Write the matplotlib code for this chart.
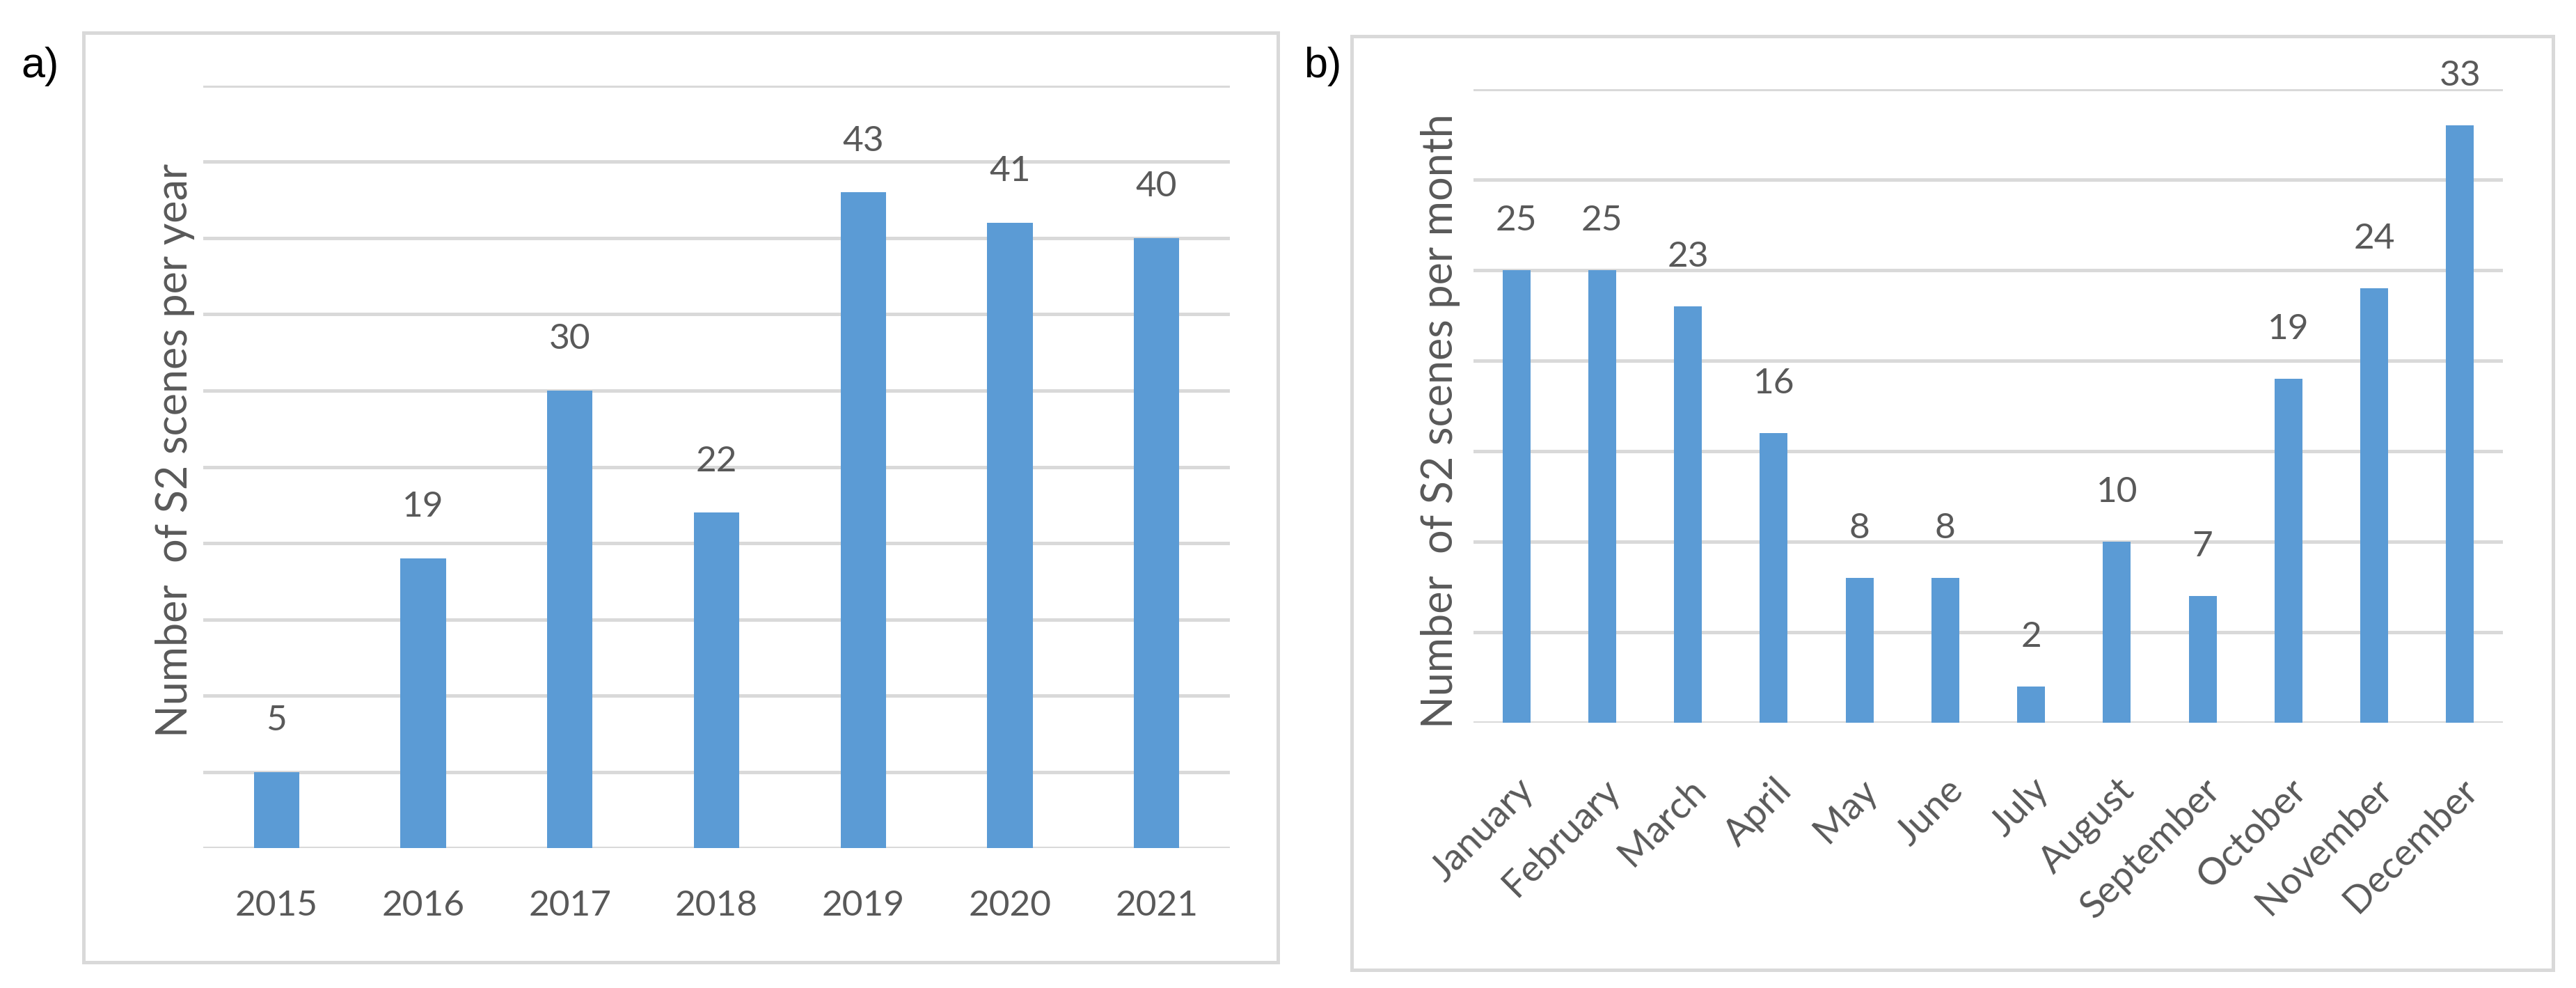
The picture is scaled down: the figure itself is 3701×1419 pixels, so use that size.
import numpy as np
import matplotlib
matplotlib.use('Agg')
import matplotlib.pyplot as plt
from matplotlib import font_manager
from matplotlib.patches import Rectangle

# data
years = ['2015', '2016', '2017', '2018', '2019', '2020', '2021']
scenes_per_year = [5, 19, 30, 22, 43, 41, 40]

months = ['January', 'February', 'March', 'April', 'May', 'June', 'July',
          'August', 'September', 'October', 'November', 'December']
scenes_per_month = [25, 25, 23, 16, 8, 8, 2, 10, 7, 19, 24, 33]

plt.rcParams['font.family'] = ['Lato', 'DejaVu Sans']
fs = 37         # tick and value labels
fs_title = 44   # axis titles (drawn with wide tracking in the original)

bar_color = '#5B9BD5'
grid_color = '#D9D9D9'
text_color = '#595959'

W, H = 3701, 1419
fig = plt.figure(figsize=(W / 100, H / 100), dpi=100)


def fx(px):
    return px / W


def fy(py):
    return 1 - py / H


# panel frames
for x0, y0, x1, y1 in [(120, 47, 1836, 1382), (1942, 52, 3668, 1393)]:
    fig.patches.append(Rectangle((fx(x0), fy(y1)), fx(x1) - fx(x0), fy(y0) - fy(y1),
                                 transform=fig.transFigure, fill=False,
                                 edgecolor=grid_color, linewidth=3.6))


def style_axes(ax, top):
    ax.set_ylim(0, top)
    ax.set_yticks(np.arange(0, top + 1, 5))
    ax.yaxis.grid(True, color=grid_color, linewidth=3.6)
    ax.set_axisbelow(True)
    for s in ax.spines.values():
        s.set_visible(False)
    ax.tick_params(axis='y', left=False, labelleft=False)
    ax.tick_params(axis='x', bottom=False, colors=text_color, labelsize=fs)
    ax.set_facecolor('none')


# a) per year
ax1 = fig.add_axes([fx(292), fy(1218), fx(1767) - fx(292), fy(123) - fy(1218)])
x1 = np.arange(len(years))
ax1.bar(x1, scenes_per_year, width=0.31, color=bar_color)
ax1.set_xlim(-0.5, len(years) - 0.5)
style_axes(ax1, 50)
ax1.set_xticks(x1)
ax1.set_xticklabels(years)
ax1.tick_params(axis='x', pad=40)
for xi, v in zip(x1, scenes_per_year):
    ax1.annotate(str(v), (xi, v), xytext=(0, 53), textcoords='offset points',
                 ha='center', va='center', fontsize=fs, color=text_color)

# b) per month
ax2 = fig.add_axes([fx(2117), fy(1038), fx(3596) - fx(2117), fy(128) - fy(1038)])
x2 = np.arange(len(months))
ax2.bar(x2, scenes_per_month, width=0.325, color=bar_color)
ax2.set_xlim(-0.5, len(months) - 0.5)
style_axes(ax2, 35)
ax2.set_xticks(x2)
ax2.set_xticklabels(months, rotation=45, ha='right', va='top', rotation_mode='anchor',
                    fontsize=fs + 2)
ax2.tick_params(axis='x', pad=48)
for xi, v in zip(x2, scenes_per_month):
    ax2.annotate(str(v), (xi, v), xytext=(0, 51), textcoords='offset points',
                 ha='center', va='center', fontsize=fs, color=text_color)

# axis titles
fig.text(fx(252), fy(235), 'Number  of S2 scenes per year', rotation=90,
         ha='center', va='top', fontsize=fs_title, color=text_color)
fig.text(fx(2070), fy(163), 'Number  of S2 scenes per month', rotation=90,
         ha='center', va='top', fontsize=fs_title, color=text_color)

# panel letters
fig.text(fx(58), fy(96), 'a)', ha='center', va='center', fontsize=44,
         color='black', family=['Liberation Sans', 'DejaVu Sans'])
fig.text(fx(1900), fy(95), 'b)', ha='center', va='center', fontsize=44,
         color='black', family=['Liberation Sans', 'DejaVu Sans'])

fig.savefig('out.png', dpi=100, facecolor='white')
